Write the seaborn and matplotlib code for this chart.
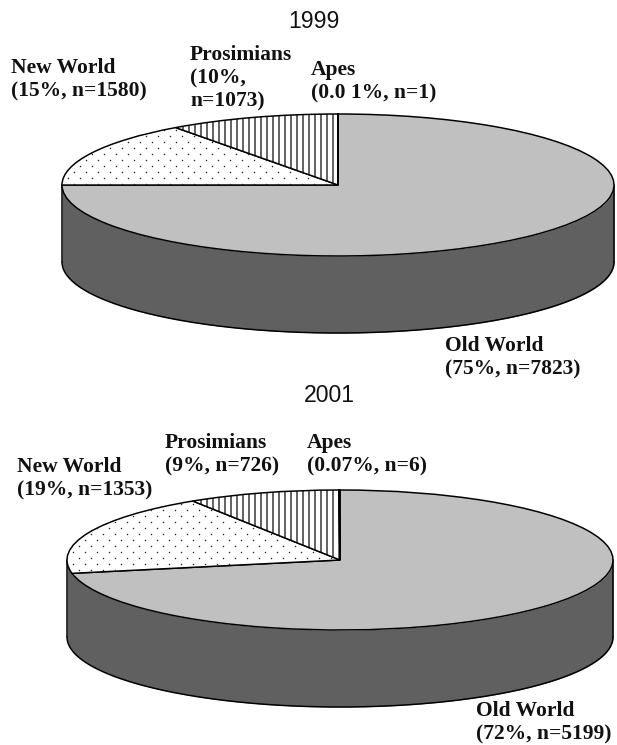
import numpy as np
import matplotlib
matplotlib.use("Agg")
import matplotlib.pyplot as plt
import seaborn as sns

# Share of captive primates per group, clockwise from the top of each pie
groups = ["Old World", "New World", "Prosimians", "Apes"]
shares_1999 = [75, 15, 10, 0.01]
shares_2001 = [72, 19, 9, 0.07]

labels_1999 = ["Old World\n(75%, n=7823)", "New World\n(15%, n=1580)",
               "Prosimians\n(10%,\nn=1073)", "Apes\n(0.0 1%, n=1)"]
labels_2001 = ["Old World\n(72%, n=5199)", "New World\n(19%, n=1353)",
               "Prosimians\n(9%, n=726)", "Apes\n(0.07%, n=6)"]

TOP_GREY = "#c0c0c0"
WALL_GREY = "#606060"
face_colours = [TOP_GREY, "white", "white", "white"]
hatches = ["", "", "||", "||"]

W, H = 617, 745
sns.set_theme(style="white")
plt.rcParams["hatch.linewidth"] = 1.2
plt.rcParams["hatch.color"] = "black"
fig = plt.figure(figsize=(W / 72, H / 72), dpi=72, facecolor="white")


def px_text(x, y, s, **kw):
    fig.text(x / W, 1 - y / H, s, **kw)


def stipple(ax, wedge, rx, ry, step_x=12, step_y=6):
    """Fill a wedge with a staggered grid of fine dots, spaced in pixels."""
    rows = np.arange(-ry, ry + step_y, step_y)
    xs, ys = [], []
    for i, row in enumerate(rows):
        cols = np.arange(-rx, rx + step_x, step_x) + (step_x / 2 if i % 2 else 0)
        xs.extend(cols / rx)
        ys.extend([row / ry] * len(cols))
    dots = ax.scatter(xs, ys, s=2.2, color="#222222", linewidths=0, zorder=4)
    dots.set_clip_path(wedge)


def draw_disc(shares, left, right, top, bottom, depth):
    """Draw one pie as a tilted disc with a shaded outer wall."""
    ax = fig.add_axes([left / W, 1 - bottom / H, (right - left) / W, (bottom - top) / H])
    rx = (right - left) / 2
    ry = (bottom - top) / 2
    thickness = depth / ry

    # Outer wall below the front half of the rim
    t = np.linspace(np.pi, 2 * np.pi, 300)
    ax.fill_between(np.cos(t), np.sin(t), np.sin(t) - thickness,
                    color=WALL_GREY, lw=0, clip_on=False, zorder=1)
    ax.plot(np.cos(t), np.sin(t) - thickness, color="black", lw=1.5, clip_on=False, zorder=2)
    ax.plot([-1, -1], [0, -thickness], color="black", lw=1.5, clip_on=False, zorder=2)
    ax.plot([1, 1], [0, -thickness], color="black", lw=1.5, clip_on=False, zorder=2)

    wedges, _ = ax.pie(shares, startangle=90, counterclock=False, colors=face_colours,
                       wedgeprops=dict(edgecolor="black", linewidth=1.5, clip_on=False))
    for wedge, hatch in zip(wedges, hatches):
        wedge.set_hatch(hatch)
        wedge.set_zorder(3)
    stipple(ax, wedges[groups.index("New World")], rx, ry)

    ax.set_aspect("auto")
    ax.set_xlim(-1, 1)
    ax.set_ylim(-1, 1)
    ax.axis("off")


draw_disc(shares_1999, 62, 614, 114, 256, 77)
draw_disc(shares_2001, 67, 613, 490, 630, 77)

title_style = dict(family="Liberation Sans", fontsize=23, color="#111111",
                   ha="center", va="center")
px_text(314, 22, "1999", **title_style)
px_text(329, 395, "2001", **title_style)

label_style = dict(family="Liberation Serif", fontweight="bold", fontsize=21.5, color="#111111",
                   ha="left", va="top", linespacing=1.22)

# Upper-left corner of each label block, in pixels
anchors_1999 = [(445, 336), (11, 58), (190, 45), (311, 60)]
anchors_2001 = [(476, 701), (17, 457), (165, 433), (307, 433)]
for text, (x, y) in zip(labels_1999, anchors_1999):
    px_text(x, y, text, **label_style)
for text, (x, y) in zip(labels_2001, anchors_2001):
    px_text(x, y, text, **label_style)

fig.savefig("out.png", dpi=72, facecolor="white")
